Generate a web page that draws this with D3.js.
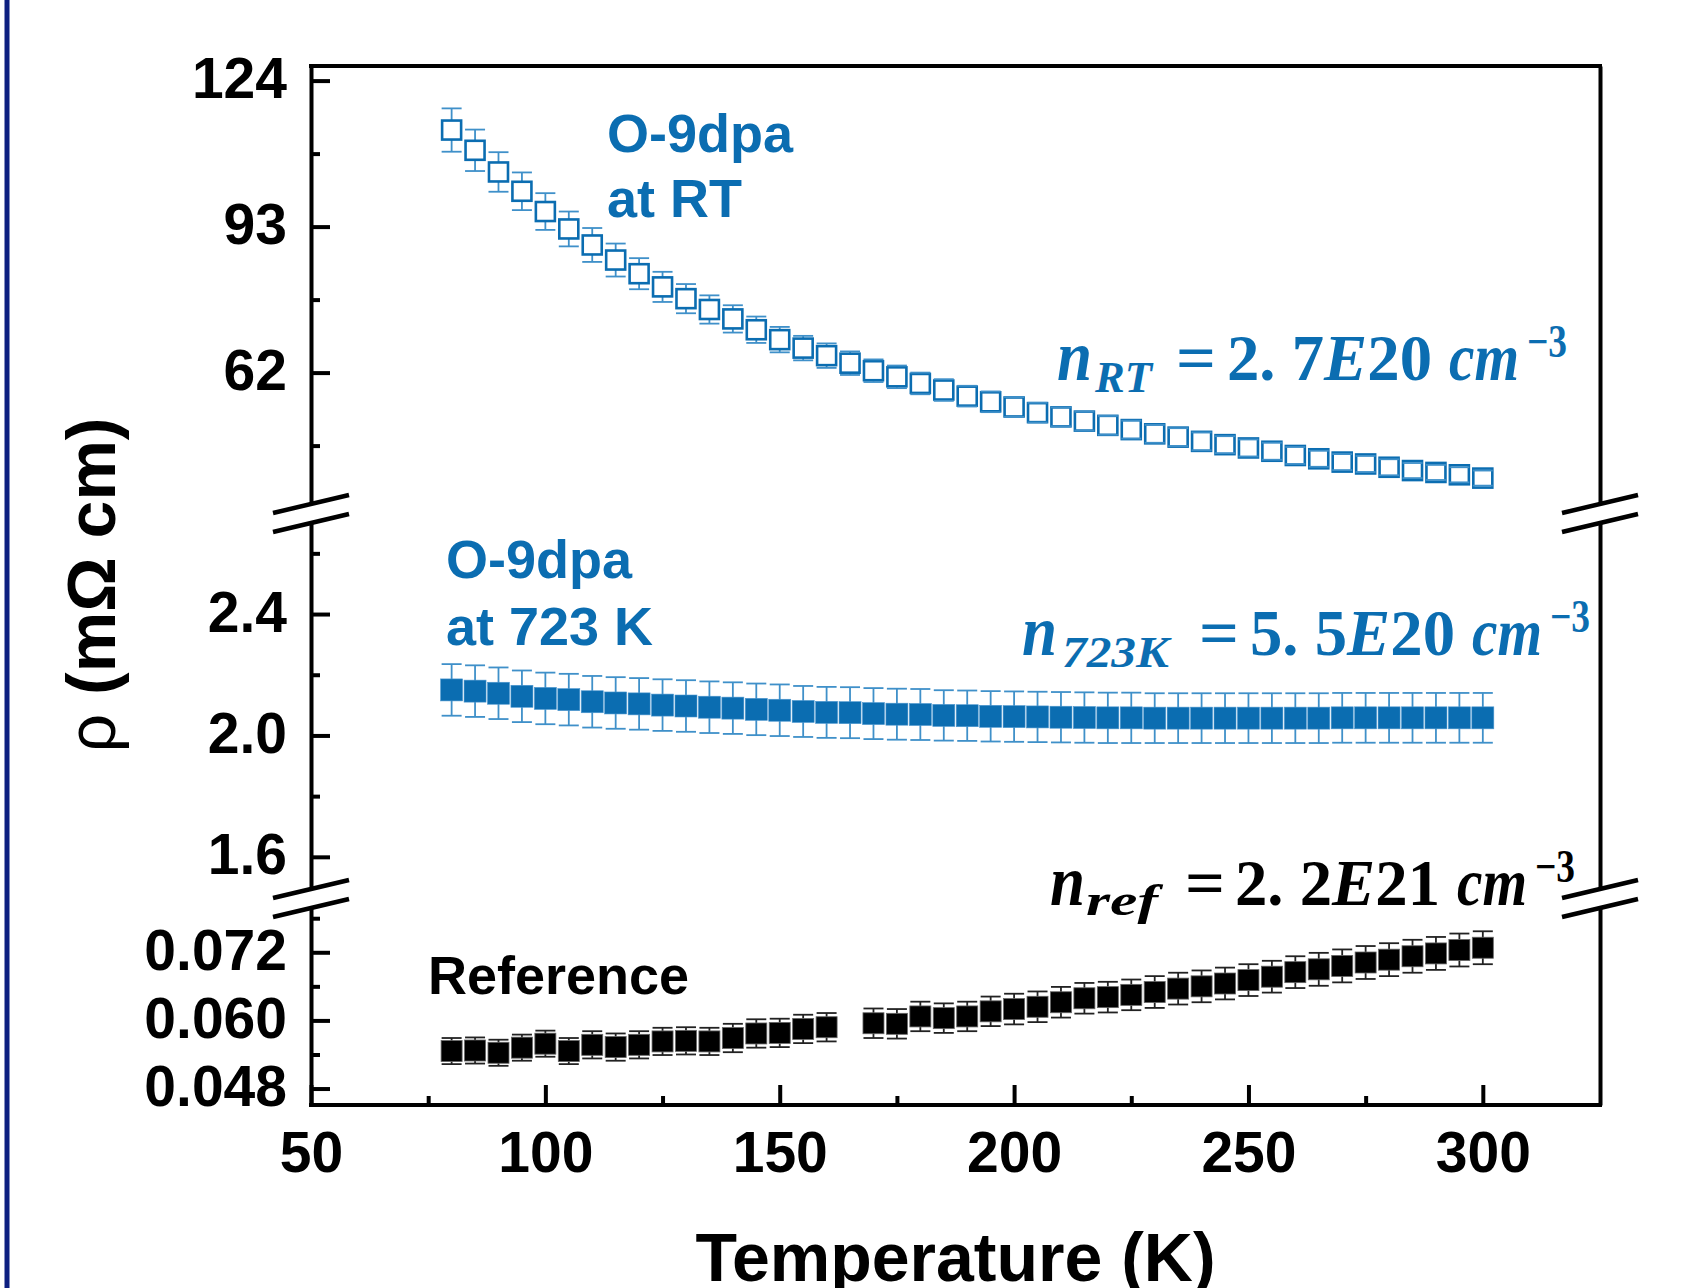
<!DOCTYPE html>
<html lang="en">
<head>
<meta charset="utf-8">
<title>Resistivity vs temperature</title>
<script src="https://d3js.org/d3.v7.min.js"></script>
<style>
  body { margin: 0; background: white; }
  svg { display: block; font-family: "Liberation Sans", Arial, sans-serif; }
  .axis .tick text { font-size: 57px; font-weight: bold; fill: black; }
  .axis path, .axis line { stroke: black; stroke-width: 4; }
  .eq { font-family: "Liberation Serif", serif; font-weight: bold; }
  .lbl { font-size: 54px; font-weight: bold; }
</style>
</head>
<body>
<svg width="1685" height="1288"></svg>
<script>
// ---- data ----
const temps = [80,85,90,95,100,105,110,115,120,125,130,135,140,145,150,155,160,165,170,175,180,185,190,195,200,
               205,210,215,220,225,230,235,240,245,250,255,260,265,270,275,280,285,290,295,300]
// O-9dpa measured at RT (open squares), mOhm cm
const rhoRT = [113.5,109.2,104.6,100.5,96.2,92.5,89.1,85.9,83.0,80.2,77.7,75.4,73.4,71.1,69.0,67.2,65.6,64.0,62.4,61.1,
               59.7,58.3,57.0,55.8,54.7,53.5,52.6,51.7,50.8,49.9,49.0,48.3,47.4,46.7,46.0,45.3,44.4,43.7,43.0,42.6,
               41.9,41.2,40.8,40.3,39.6]
const errRT = [4.6,4.4,4.2,4.0,3.9,3.7,3.6,3.5,3.3,3.2,3.1,3.0,2.9,2.8,2.7,2.6,2.6,2.5,2.4,2.4,
               2.3,2.3,2.2,2.2,2.1,2.1,2.0,2.0,2.0,1.9,1.9,1.9,1.9,1.8,1.8,1.8,1.8,1.7,1.7,1.7,
               1.7,1.6,1.6,1.6,1.6]
// O-9dpa at 723 K (filled blue squares)
const rho723 = [2.150,2.146,2.139,2.129,2.122,2.118,2.111,2.107,2.104,2.100,2.097,2.093,2.090,2.086,2.083,2.079,2.076,2.075,
                2.072,2.070,2.069,2.066,2.065,2.063,2.062,2.061,2.060,2.059,2.058,2.058,2.057,2.057,2.057,2.057,2.057,
                2.057,2.057,2.057,2.058,2.058,2.058,2.058,2.058,2.058,2.058]
const err723 = [0.085,0.085,0.085,0.085,0.085,0.085,0.085,0.085,0.085,0.085,0.085,0.085,0.085,0.085,0.085,0.084,0.084,0.084,
                0.084,0.084,0.084,0.083,0.083,0.083,0.083,0.083,0.083,0.083,0.083,0.083,0.082,0.082,0.082,0.082,0.082,
                0.082,0.082,0.082,0.082,0.082,0.082,0.082,0.082,0.082,0.082]
// Reference (filled black squares), no point at 165 K
const tempsRef = [80,85,90,95,100,105,110,115,120,125,130,135,140,145,150,155,160,170,175,180,185,190,195,200,
                  205,210,215,220,225,230,235,240,245,250,255,260,265,270,275,280,285,290,295,300]
const rhoRef = [0.0546,0.0547,0.0543,0.0552,0.0559,0.0546,0.0557,0.0553,0.0557,0.0563,0.0564,0.0563,0.0569,0.0577,
                0.0578,0.0585,0.0588,0.0595,0.0594,0.0607,0.0604,0.0607,0.0616,0.0620,0.0624,0.0632,0.0639,0.0641,
                0.0645,0.0650,0.0656,0.0660,0.0665,0.0671,0.0677,0.0685,0.0690,0.0696,0.0702,0.0707,0.0713,0.0718,
                0.0724,0.0728]
const errRef = [0.0023,0.0023,0.0023,0.0023,0.0023,0.0023,0.0024,0.0024,0.0024,0.0024,0.0024,0.0024,0.0025,0.0025,
                0.0025,0.0025,0.0025,0.0026,0.0026,0.0026,0.0026,0.0026,0.0026,0.0027,0.0027,0.0027,0.0027,0.0027,
                0.0027,0.0028,0.0028,0.0028,0.0028,0.0028,0.0028,0.0028,0.0029,0.0029,0.0029,0.0029,0.0029,0.0029,
                0.0029,0.0029]

const xTicks = [50,100,150,200,250,300]
const xMinor = [75,125,175,225,275]
const topTicks = [124,93,62], topMinor = [108.5,77.5,46.5]
const midTicks = [2.4,2.0,1.6], midMinor = [2.6,2.2,1.8]
const lowTicks = [0.072,0.060,0.048], lowMinor = [0.078,0.066,0.054]

// ---- layout ----
const svg = d3.select("svg")
const blue = "#0b6db1", barBlue = "#3f90c9"
const pLeft = 311, pRight = 1600, pTop = 66, pBottom = 1105

svg.append("rect").attr("x", 4.5).attr("y", 0).attr("width", 5).attr("height", 1288).attr("fill", "#0d1f80")

const xScale = d3.scaleLinear().domain([50, 325]).range([pLeft, pRight])

// broken y axis: three stacked segments
const yTop = d3.scaleLinear().domain([34.1, 127.1]).range([504, pTop])
const yMid = d3.scaleLinear().domain([1.494, 2.70]).range([889, 523])
const yLow = d3.scaleLinear().domain([0.0451, 0.0798]).range([pBottom, 908])
const segs = [[yTop, topTicks, topMinor, d3.format("d")],
              [yMid, midTicks, midMinor, d3.format(".1f")],
              [yLow, lowTicks, lowMinor, d3.format(".3f")]]

segs.forEach(([sc, major, minor, fmt]) => {
    // left axis with ticks pointing inward
    let g = svg.append("g").attr("class", "axis").attr("transform", "translate(" + pLeft + ",0)")
        .call(d3.axisLeft(sc).tickValues(major).tickSizeInner(-19).tickSizeOuter(0).tickPadding(24).tickFormat(fmt))
    g.selectAll(".tick text").attr("dy", 17)
    svg.append("g").attr("class", "axis").attr("transform", "translate(" + pLeft + ",0)")
        .call(d3.axisLeft(sc).tickValues(minor).tickSizeInner(-9).tickSizeOuter(0).tickFormat(""))
        .select(".domain").remove()
    // right frame segment, no ticks
    svg.append("g").attr("class", "axis").attr("transform", "translate(" + pRight + ",0)")
        .call(d3.axisRight(sc).tickValues([]).tickSizeOuter(0))
})

// top frame line
svg.append("line").attr("x1", pLeft - 2).attr("x2", pRight + 2).attr("y1", pTop).attr("y2", pTop)
    .attr("stroke", "black").attr("stroke-width", 4)

// bottom x axis
let xg = svg.append("g").attr("class", "axis").attr("transform", "translate(0," + pBottom + ")")
    .call(d3.axisBottom(xScale).tickValues(xTicks).tickSizeInner(-20).tickSizeOuter(0).tickPadding(27).tickFormat(d3.format("d")))
xg.select(".domain").attr("d", "M" + (pLeft - 2) + ",0H" + (pRight + 2))
xg.selectAll(".tick text").attr("dy", "0.71em")
svg.append("g").attr("class", "axis").attr("transform", "translate(0," + pBottom + ")")
    .call(d3.axisBottom(xScale).tickValues(xMinor).tickSizeInner(-9).tickSizeOuter(0).tickFormat(""))
    .select(".domain").remove()

// break marks on both sides
const breaks = [yTop.range()[0], yMid.range()[1], yMid.range()[0], yLow.range()[1]]
;[pLeft, pRight].forEach(ax => {
    breaks.forEach(by => {
        svg.append("line").attr("x1", ax - 38).attr("y1", by + 9).attr("x2", ax + 38).attr("y2", by - 9)
            .attr("stroke", "black").attr("stroke-width", 4.5)
    })
})

// ---- series ----
function drawSeries(xs, ys, errs, y, o) {
    const g = svg.append("g")
    const pts = xs.map((t, i) => ({x: xScale(t), y: y(ys[i]), hi: y(ys[i] + errs[i]), lo: y(ys[i] - errs[i])}))
    g.selectAll(".stem").data(pts).enter().append("line")
        .attr("x1", d => d.x).attr("x2", d => d.x).attr("y1", d => d.hi).attr("y2", d => d.lo)
        .attr("stroke", o.bar).attr("stroke-width", 1.8)
    g.selectAll("rect").data(pts).enter().append("rect")
        .attr("x", d => d.x - o.size / 2).attr("y", d => d.y - o.size / 2)
        .attr("width", o.size).attr("height", o.size)
        .attr("fill", o.fill).attr("stroke", o.stroke).attr("stroke-width", o.sw)
    ;["hi", "lo"].forEach(k => {
        g.selectAll(".cap" + k).data(pts).enter().append("line")
            .attr("x1", d => d.x - 10).attr("x2", d => d.x + 10).attr("y1", d => d[k]).attr("y2", d => d[k])
            .attr("stroke", o.bar).attr("stroke-width", 1.8)
    })
}
drawSeries(temps, rhoRT, errRT, yTop, {size: 19, fill: "white", stroke: blue, sw: 2.6, bar: barBlue})
drawSeries(temps, rho723, err723, yMid, {size: 22, fill: blue, stroke: "#4d97cf", sw: 0.6, bar: barBlue})
drawSeries(tempsRef, rhoRef, errRef, yLow, {size: 21, fill: "black", stroke: "#666", sw: 0.8, bar: "#222"})

// ---- axis titles ----
svg.append("text").attr("x", (pLeft + pRight) / 2).attr("y", 1281).attr("text-anchor", "middle")
    .style("font-size", "68px").style("font-weight", "bold").text("Temperature (K)")
let yt = svg.append("text").attr("transform", "translate(115,585) rotate(-90)").attr("text-anchor", "middle")
    .style("font-size", "68px").style("font-weight", "bold")
yt.append("tspan").style("font-weight", "normal").text("ρ")
yt.append("tspan").text(" (mΩ cm)")

// ---- annotations ----
function label(lines, x, ys, color) {
    lines.forEach((s, i) => svg.append("text").attr("class", "lbl").attr("x", x).attr("y", ys[i])
        .attr("fill", color).text(s))
}
label(["O-9dpa", "at RT"], 607, [152, 217], blue)
label(["O-9dpa", "at 723 K"], 446, [578, 645], blue)
label(["Reference"], 428, [994], "black")

function eq(color, base, p) {
    const g = svg.append("g").attr("class", "eq").attr("fill", color)
    const add = (txt, x, y, size, w, it) => {
        const t = g.append("text").attr("x", x).attr("y", y).attr("font-size", size)
            .attr("textLength", w).attr("lengthAdjust", "spacingAndGlyphs")
        if (it) t.attr("font-style", "italic")
        return t.text(txt)
    }
    add("n", p.n, base, 72, 35, true)
    add(p.sub, p.sx, base + p.sdy, 44, p.sw, true)
    add("=", p.eq, base, 66, 40, false)
    const num = g.append("text").attr("x", p.num).attr("y", base).attr("font-size", 66)
        .attr("textLength", 205).attr("lengthAdjust", "spacingAndGlyphs")
    num.append("tspan").text(p.val[0])
    num.append("tspan").attr("font-style", "italic").text("E")
    num.append("tspan").text(p.val[1])
    add("cm", p.cm, base, 68, 70, true)
    add("\u22123", p.cm + 78, p.sup, 46, 40, false)
}
eq(blue, 380, {n: 1057, sub: "RT", sx: 1095, sdy: 12, sw: 57, eq: 1176, num: 1227, val: ["2. 7", "20"], cm: 1449, sup: 357})
eq(blue, 655, {n: 1022, sub: "723K", sx: 1062, sdy: 12, sw: 107, eq: 1199, num: 1250, val: ["5. 5", "20"], cm: 1472, sup: 632})
eq("black", 905, {n: 1050, sub: "ref", sx: 1086, sdy: 10, sw: 72, eq: 1185, num: 1235, val: ["2. 2", "21"], cm: 1457, sup: 882})
</script>
</body>
</html>
